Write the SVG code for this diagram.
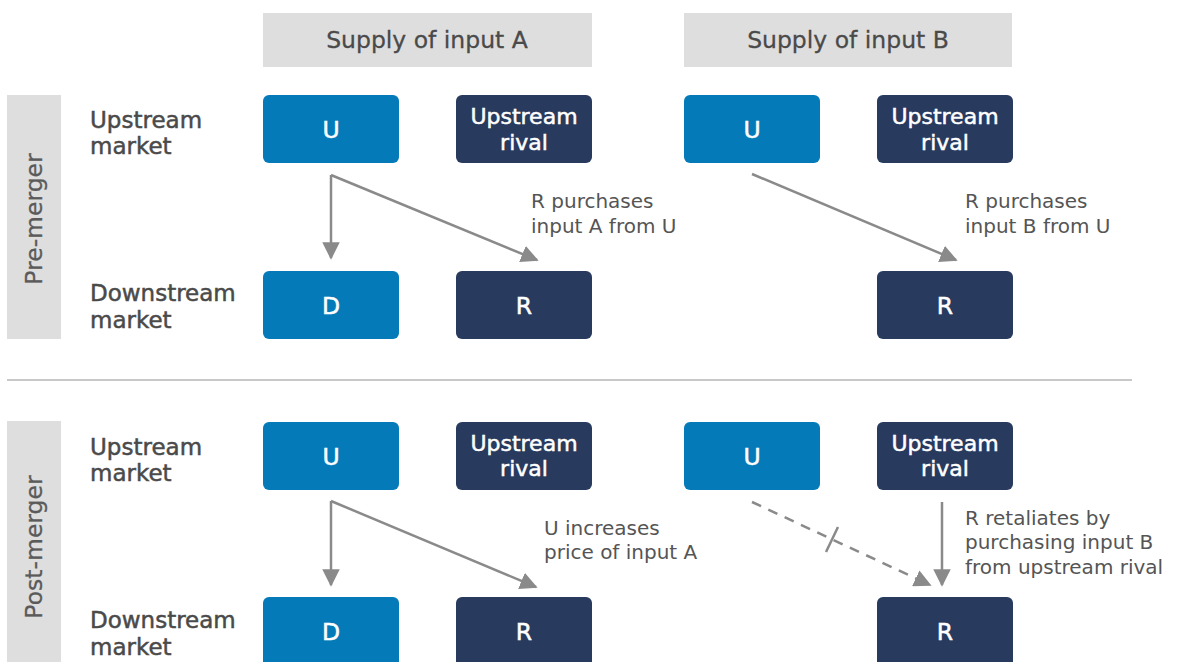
<svg xmlns="http://www.w3.org/2000/svg" width="1178" height="662" viewBox="0 0 1178 662">
  <style>
    .hdr { fill: #dedede; }
    .side { fill: #dedede; }
    .blue { fill: #047bb8; }
    .navy { fill: #283a5e; }
    .hdrtxt { font-family: "DejaVu Sans", sans-serif; font-size: 23.5px; fill: #4a4a4a; text-anchor: middle; stroke: #4a4a4a; stroke-width: 0.3; }
    .sidetxt { font-family: "DejaVu Sans", sans-serif; font-size: 23.5px; fill: #5a5a5a; text-anchor: middle; stroke: #5a5a5a; stroke-width: 0.3; }
    .row { font-family: "DejaVu Sans", sans-serif; font-size: 23px; fill: #4a4a4a; stroke: #4a4a4a; stroke-width: 0.5; }
    .node { font-family: "DejaVu Sans", sans-serif; font-size: 22px; fill: #ffffff; text-anchor: middle; stroke: #ffffff; stroke-width: 0.5; }
    .letter { font-size: 23.5px; }
    .note { font-family: "DejaVu Sans", sans-serif; font-size: 20px; fill: #555555; }
    .conn { stroke: #8a8a8a; stroke-width: 2.5; fill: none; }
    .dash { stroke-dasharray: 10 8; }
  </style>
  <defs>
    <marker id="arrow" viewBox="0 0 10 10" refX="9" refY="5" markerWidth="7" markerHeight="7" markerUnits="strokeWidth" orient="auto">
      <path d="M0,0 L10,5 L0,10 Z" fill="#8a8a8a"/>
    </marker>
  </defs>

  <!-- column headers -->
  <g id="header-a">
    <rect class="hdr" x="263" y="13" width="329" height="54"/>
    <text class="hdrtxt" x="427" y="48">Supply of input A</text>
  </g>
  <g id="header-b">
    <rect class="hdr" x="684" y="13" width="328" height="54"/>
    <text class="hdrtxt" x="848" y="48">Supply of input B</text>
  </g>

  <!-- phase bars -->
  <g id="phase-pre">
    <rect class="side" x="7" y="95" width="54" height="244"/>
    <text class="sidetxt" transform="translate(42,219) rotate(-90)">Pre-merger</text>
  </g>
  <g id="phase-post">
    <rect class="side" x="7" y="421" width="54" height="245"/>
    <text class="sidetxt" transform="translate(42,547) rotate(-90)">Post-merger</text>
  </g>

  <!-- separator -->
  <line x1="7" y1="380" x2="1132" y2="380" stroke="#c8c8c8" stroke-width="2"/>

  <!-- row labels -->
  <g id="row-labels">
    <text class="row" x="90" y="128">Upstream</text>
    <text class="row" x="90" y="154">market</text>
    <text class="row" x="90" y="301">Downstream</text>
    <text class="row" x="90" y="328">market</text>
    <text class="row" x="90" y="455">Upstream</text>
    <text class="row" x="90" y="481">market</text>
    <text class="row" x="90" y="628">Downstream</text>
    <text class="row" x="90" y="655">market</text>
  </g>

  <!-- pre-merger nodes -->
  <g id="pre-u-a">
    <rect class="blue" x="263" y="95" width="136" height="68" rx="6"/>
    <text class="node letter" x="331" y="138">U</text>
  </g>
  <g id="pre-rival-a">
    <rect class="navy" x="456" y="95" width="136" height="68" rx="6"/>
    <text class="node" x="524" y="124">Upstream</text>
    <text class="node" x="524" y="150">rival</text>
  </g>
  <g id="pre-u-b">
    <rect class="blue" x="684" y="95" width="136" height="68" rx="6"/>
    <text class="node letter" x="752" y="138">U</text>
  </g>
  <g id="pre-rival-b">
    <rect class="navy" x="877" y="95" width="136" height="68" rx="6"/>
    <text class="node" x="945" y="124">Upstream</text>
    <text class="node" x="945" y="150">rival</text>
  </g>
  <g id="pre-d">
    <rect class="blue" x="263" y="271" width="136" height="68" rx="6"/>
    <text class="node letter" x="331" y="314">D</text>
  </g>
  <g id="pre-r-a">
    <rect class="navy" x="456" y="271" width="136" height="68" rx="6"/>
    <text class="node letter" x="524" y="314">R</text>
  </g>
  <g id="pre-r-b">
    <rect class="navy" x="877" y="271" width="136" height="68" rx="6"/>
    <text class="node letter" x="945" y="314">R</text>
  </g>

  <!-- post-merger nodes -->
  <g id="post-u-a">
    <rect class="blue" x="263" y="422" width="136" height="68" rx="6"/>
    <text class="node letter" x="331" y="465">U</text>
  </g>
  <g id="post-rival-a">
    <rect class="navy" x="456" y="422" width="136" height="68" rx="6"/>
    <text class="node" x="524" y="451">Upstream</text>
    <text class="node" x="524" y="476">rival</text>
  </g>
  <g id="post-u-b">
    <rect class="blue" x="684" y="422" width="136" height="68" rx="6"/>
    <text class="node letter" x="752" y="465">U</text>
  </g>
  <g id="post-rival-b">
    <rect class="navy" x="877" y="422" width="136" height="68" rx="6"/>
    <text class="node" x="945" y="451">Upstream</text>
    <text class="node" x="945" y="476">rival</text>
  </g>
  <g id="post-d">
    <rect class="blue" x="263" y="597" width="136" height="70" rx="6"/>
    <text class="node letter" x="331" y="640">D</text>
  </g>
  <g id="post-r-a">
    <rect class="navy" x="456" y="597" width="136" height="70" rx="6"/>
    <text class="node letter" x="524" y="640">R</text>
  </g>
  <g id="post-r-b">
    <rect class="navy" x="877" y="597" width="136" height="70" rx="6"/>
    <text class="node letter" x="945" y="640">R</text>
  </g>

  <!-- connectors -->
  <g id="connectors">
    <polyline class="conn" points="331,175 331,258" marker-end="url(#arrow)"/>
    <line class="conn" x1="331" y1="175" x2="537" y2="260" marker-end="url(#arrow)"/>
    <line class="conn" x1="752" y1="174" x2="956" y2="260" marker-end="url(#arrow)"/>

    <polyline class="conn" points="331,501 331,585" marker-end="url(#arrow)"/>
    <line class="conn" x1="331" y1="501" x2="536" y2="587" marker-end="url(#arrow)"/>
    <line class="conn dash" x1="752" y1="502" x2="930" y2="585" marker-end="url(#arrow)"/>
    <line class="conn" x1="838" y1="527" x2="826" y2="552"/>
    <line class="conn" x1="942" y1="502" x2="942" y2="585" marker-end="url(#arrow)"/>
  </g>

  <!-- annotations -->
  <g id="notes">
    <text class="note" x="531" y="208">R purchases</text>
    <text class="note" x="531" y="233">input A from U</text>
    <text class="note" x="965" y="208">R purchases</text>
    <text class="note" x="965" y="233">input B from U</text>
    <text class="note" x="544" y="535">U increases</text>
    <text class="note" x="544" y="559">price of input A</text>
    <text class="note" x="965" y="525">R retaliates by</text>
    <text class="note" x="965" y="549">purchasing input B</text>
    <text class="note" x="965" y="574">from upstream rival</text>
  </g>
</svg>
